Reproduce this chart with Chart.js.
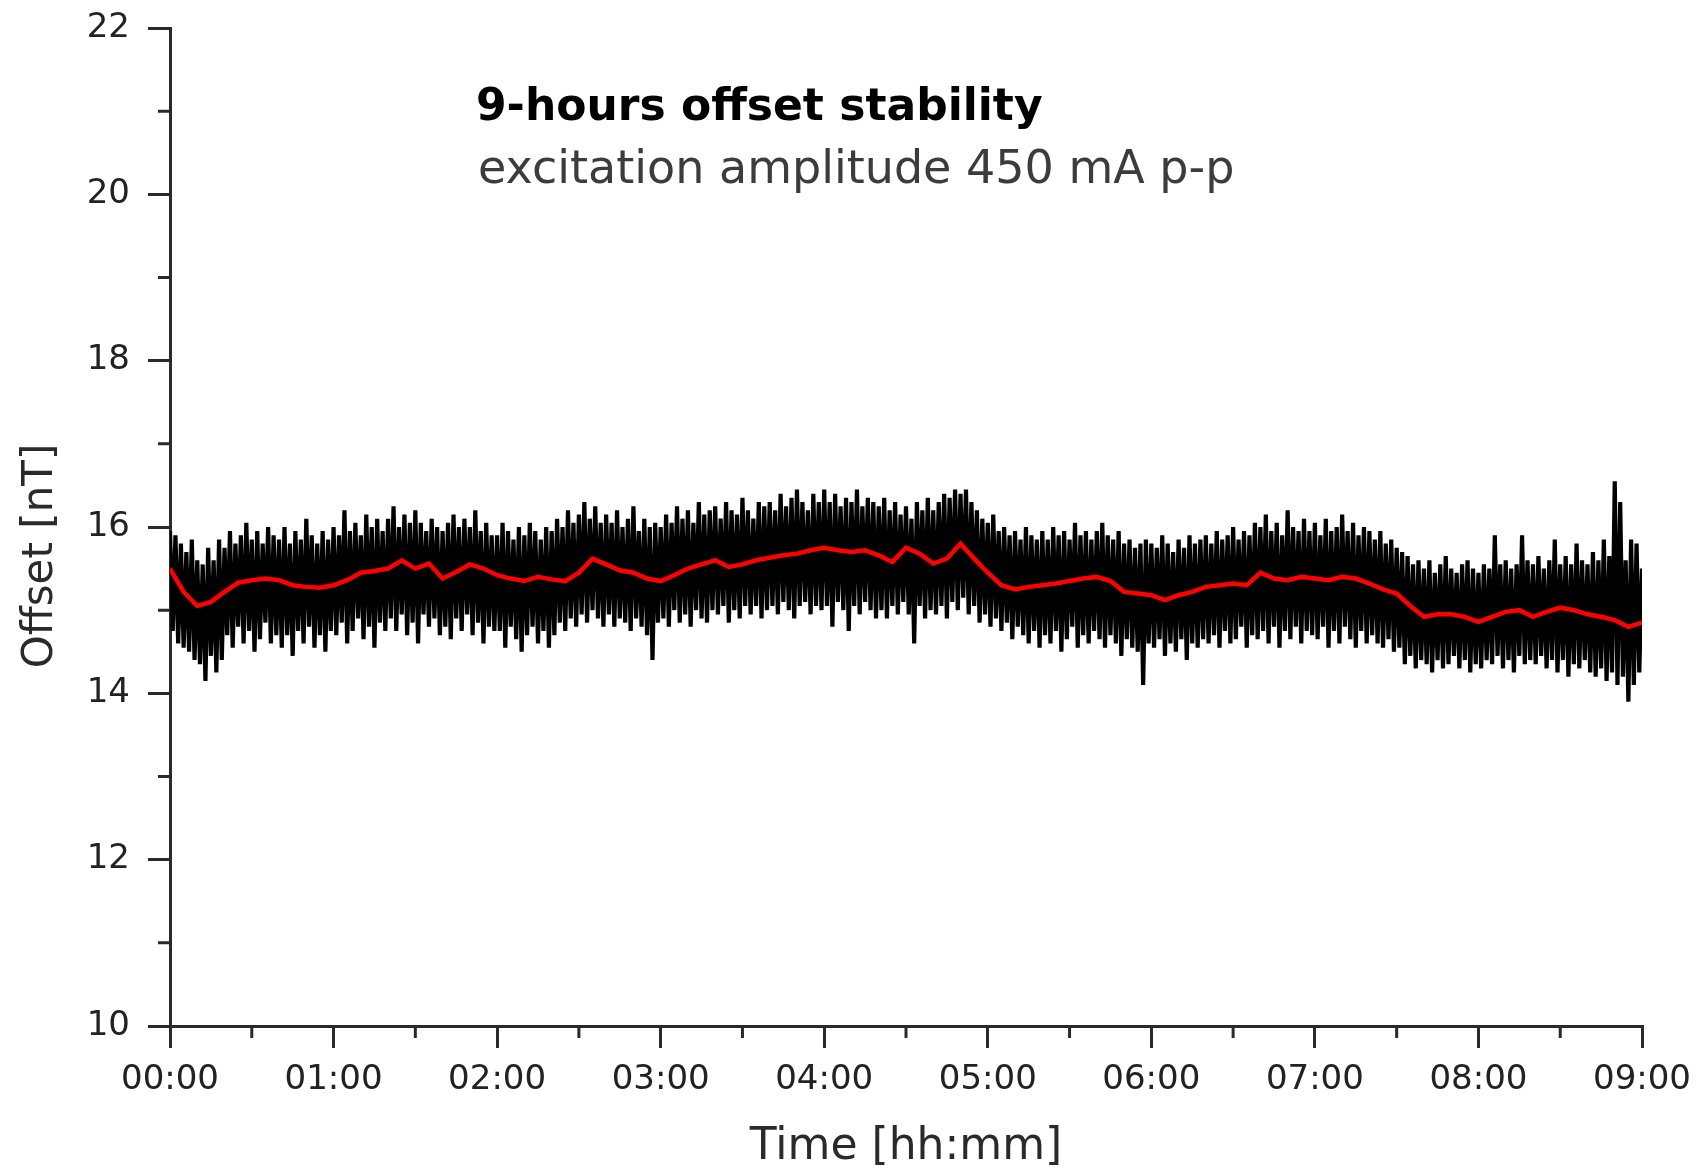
<!DOCTYPE html>
<html>
<head>
<meta charset="utf-8">
<script src="https://cdn.jsdelivr.net/npm/chart.js@4.4.1/dist/chart.umd.min.js"></script>
<style>
  html, body { margin: 0; padding: 0; background: #fff; }
  #wrap { width: 1703px; height: 1172px; }
</style>
</head>
<body>
<div id="wrap"><canvas id="offset-chart"></canvas></div>
<script>
// sampling steps in minutes
var RED_STEP = 5;
var RAW_STEP = 1;

// smoothed offset (red), one value every 5 min from 00:00 to 09:00
var redValues = [
  15.50, 15.22, 15.05, 15.10, 15.22, 15.33, 15.36, 15.38, 15.36, 15.30,
  15.28, 15.27, 15.30, 15.36, 15.45, 15.47, 15.50, 15.60, 15.50, 15.56,
  15.38, 15.46, 15.55, 15.50, 15.42, 15.38, 15.35, 15.40, 15.37, 15.35,
  15.45, 15.62, 15.55, 15.48, 15.45, 15.38, 15.35, 15.42, 15.50, 15.55,
  15.60, 15.52, 15.55, 15.60, 15.63, 15.66, 15.68, 15.72, 15.75, 15.72,
  15.70, 15.72, 15.66, 15.58, 15.75, 15.68, 15.56, 15.62, 15.80, 15.62,
  15.45, 15.30, 15.25, 15.28, 15.30, 15.32, 15.35, 15.38, 15.40, 15.35,
  15.22, 15.20, 15.18, 15.12, 15.18, 15.22, 15.28, 15.30, 15.32, 15.30,
  15.45, 15.38, 15.36, 15.40, 15.38, 15.36, 15.40, 15.38, 15.32, 15.25,
  15.20, 15.05, 14.92, 14.95, 14.95, 14.92, 14.86, 14.92, 14.98, 15.00,
  14.92, 14.98, 15.03, 15.00, 14.95, 14.92, 14.88, 14.80, 14.85
];

// raw offset signal (black), one value every minute, 20 per row
var rawValues = [
  15.95, 14.75, 15.90, 14.60, 15.80, 14.55, 15.70, 14.50, 15.85, 14.40, 15.60, 14.35, 15.55, 14.15, 15.75, 14.45, 15.60, 14.25, 15.85, 14.40,
  15.75, 14.70, 15.95, 14.55, 15.80, 14.80, 15.90, 14.60, 16.05, 14.75, 15.85, 14.50, 15.95, 14.65, 15.80, 14.85, 16.00, 14.60, 15.90, 14.70,
  15.85, 14.55, 16.00, 14.70, 15.80, 14.45, 15.95, 14.75, 15.85, 14.60, 16.10, 14.80, 15.90, 14.55, 15.80, 14.70, 15.95, 14.50, 15.85, 14.75,
  16.00, 14.70, 15.90, 14.85, 16.20, 14.60, 15.95, 14.75, 16.05, 14.90, 15.90, 14.65, 16.15, 14.80, 16.00, 14.55, 16.10, 14.85, 15.95, 14.75,
  16.10, 14.90, 16.25, 14.75, 16.00, 14.95, 16.15, 14.70, 16.05, 14.85, 16.20, 14.60, 16.05, 14.95, 15.95, 14.80, 16.10, 14.90, 16.00, 14.70,
  15.95, 14.80, 16.05, 14.65, 16.15, 14.90, 16.00, 14.75, 16.10, 14.95, 16.00, 14.70, 16.20, 14.85, 15.95, 14.60, 16.05, 14.80, 15.90, 14.75,
  15.90, 14.75, 16.05, 14.55, 15.95, 14.80, 15.85, 14.65, 16.00, 14.50, 15.90, 14.70, 16.05, 14.80, 15.95, 14.60, 15.85, 14.75, 16.00, 14.55,
  15.95, 14.70, 16.10, 14.85, 16.00, 14.75, 16.20, 14.90, 16.05, 14.80, 16.15, 14.95, 16.30, 14.85, 16.10, 15.00, 16.25, 14.90, 16.05, 14.80,
  16.15, 14.95, 16.05, 14.80, 16.20, 14.90, 16.00, 14.85, 16.10, 14.75, 16.25, 14.90, 15.95, 14.80, 16.10, 14.70, 16.00, 14.40, 16.05, 14.85,
  16.00, 14.90, 16.15, 14.80, 16.05, 15.00, 16.25, 14.85, 16.10, 14.95, 16.20, 14.80, 16.05, 15.00, 16.30, 14.90, 16.15, 14.85, 16.20, 15.00,
  16.25, 14.95, 16.10, 15.05, 16.30, 14.85, 16.20, 15.00, 16.15, 14.90, 16.35, 15.05, 16.20, 14.95, 16.10, 15.05, 16.30, 14.90, 16.25, 15.00,
  16.30, 15.05, 16.20, 14.95, 16.40, 15.10, 16.25, 15.00, 16.35, 14.90, 16.45, 15.05, 16.30, 15.10, 16.20, 14.95, 16.40, 15.05, 16.30, 15.00,
  16.45, 15.05, 16.30, 14.80, 16.40, 15.10, 16.25, 15.00, 16.35, 14.75, 16.30, 15.05, 16.45, 14.95, 16.25, 15.10, 16.35, 15.00, 16.30, 14.90,
  16.25, 15.00, 16.35, 14.90, 16.20, 15.05, 16.30, 14.95, 16.15, 15.10, 16.25, 14.95, 16.10, 14.60, 16.30, 15.05, 16.20, 14.90, 16.35, 15.00,
  16.20, 14.95, 16.30, 15.05, 16.40, 14.90, 16.35, 15.10, 16.45, 15.00, 16.40, 15.15, 16.45, 14.95, 16.30, 15.05, 16.20, 14.85, 16.10, 14.95,
  16.05, 14.80, 16.15, 14.90, 15.95, 14.75, 16.00, 14.85, 15.90, 14.65, 15.95, 14.80, 15.85, 14.70, 16.00, 14.60, 15.90, 14.75, 15.85, 14.55,
  15.95, 14.70, 15.85, 14.60, 16.00, 14.75, 15.90, 14.50, 15.95, 14.65, 15.85, 14.80, 16.05, 14.55, 15.90, 14.70, 15.95, 14.60, 15.85, 14.75,
  15.95, 14.65, 16.05, 14.55, 15.90, 14.70, 15.85, 14.60, 15.95, 14.45, 15.80, 14.65, 15.85, 14.55, 15.75, 14.50, 15.80, 14.10, 15.85, 14.60,
  15.80, 14.55, 15.75, 14.65, 15.90, 14.45, 15.80, 14.60, 15.70, 14.50, 15.85, 14.65, 15.75, 14.40, 15.90, 14.60, 15.80, 14.55, 15.85, 14.65,
  15.90, 14.60, 15.80, 14.70, 15.95, 14.55, 15.85, 14.75, 15.90, 14.60, 16.00, 14.65, 15.85, 14.80, 15.95, 14.55, 15.90, 14.70, 16.05, 14.65,
  16.00, 14.75, 16.15, 14.60, 15.95, 14.80, 16.05, 14.55, 15.90, 14.75, 16.20, 14.65, 16.00, 14.80, 15.95, 14.60, 16.10, 14.75, 15.95, 14.70,
  16.05, 14.65, 15.90, 14.80, 16.10, 14.55, 15.95, 14.75, 16.00, 14.60, 16.15, 14.80, 15.95, 14.65, 16.05, 14.55, 15.90, 14.75, 16.00, 14.60,
  15.95, 14.70, 15.85, 14.60, 15.95, 14.55, 15.80, 14.65, 15.85, 14.50, 15.75, 14.55, 15.70, 14.35, 15.65, 14.45, 15.55, 14.30, 15.60, 14.40,
  15.50, 14.35, 15.60, 14.25, 15.45, 14.40, 15.55, 14.30, 15.65, 14.35, 15.50, 14.45, 15.45, 14.30, 15.55, 14.40, 15.60, 14.25, 15.50, 14.35,
  15.45, 14.30, 15.55, 14.40, 15.50, 14.35, 15.90, 14.45, 15.55, 14.30, 15.60, 14.40, 15.50, 14.25, 15.55, 14.45, 15.90, 14.35, 15.60, 14.40,
  15.55, 14.35, 15.65, 14.45, 15.50, 14.30, 15.60, 14.40, 15.85, 14.25, 15.55, 14.40, 15.65, 14.20, 15.55, 14.35, 15.80, 14.30, 15.60, 14.40,
  15.55, 14.25, 15.70, 14.20, 15.60, 14.30, 15.85, 14.15, 15.65, 14.25, 16.55, 14.10, 16.30, 14.20, 15.60, 13.90, 15.85, 14.10, 15.80, 14.25,
  15.50
];

// axis ranges / ticks
var xMin = 0, xMax = 540, xMajorStep = 60, xMinorStep = 30;
var yMin = 10, yMax = 22, yMajorStep = 2, yMinorStep = 1;

var titleText = "9-hours offset stability";
var subtitleText = "excitation amplitude 450 mA p-p";
var xTitle = "Time [hh:mm]";
var yTitle = "Offset [nT]";

function toPoints(values, step) {
  return values.map(function (v, i) { return { x: i * step, y: v }; });
}

function hhmm(minutes) {
  var h = Math.floor(minutes / 60), m = Math.round(minutes % 60);
  return (h < 10 ? "0" : "") + h + ":" + (m < 10 ? "0" : "") + m;
}

var axisColor = "#2a2a2a";
var FONT = '"DejaVu Sans", "Liberation Sans", sans-serif';

// minor ticks + text inside the plot
var decorPlugin = {
  id: "decor",
  afterDraw: function (chart) {
    var ctx = chart.ctx;
    var xs = chart.scales.x, ys = chart.scales.y;
    var area = chart.chartArea;
    ctx.save();
    ctx.strokeStyle = axisColor;
    ctx.lineWidth = 3;
    ctx.beginPath();
    for (var v = yMin + yMinorStep; v < yMax; v += yMajorStep) {
      var py = ys.getPixelForValue(v);
      ctx.moveTo(area.left - 12, py);
      ctx.lineTo(area.left, py);
    }
    for (var t = xMin + xMinorStep; t < xMax; t += xMajorStep) {
      var px = xs.getPixelForValue(t);
      ctx.moveTo(px, area.bottom);
      ctx.lineTo(px, area.bottom + 12);
    }
    ctx.stroke();

    ctx.textBaseline = "middle";
    ctx.textAlign = "left";
    ctx.fillStyle = "#000";
    ctx.font = "bold 44px " + FONT;
    ctx.fillText(titleText, 476, 109);
    ctx.fillStyle = "#3c3c3c";
    ctx.font = "46px " + FONT;
    ctx.fillText(subtitleText, 478, 171);

    ctx.translate(41, 556);
    ctx.rotate(-Math.PI / 2);
    ctx.textAlign = "center";
    ctx.fillStyle = axisColor;
    ctx.font = "42px " + FONT;
    ctx.fillText(yTitle, 0, 0);
    ctx.restore();
  }
};

var ctx = document.getElementById("offset-chart");

var chart = new Chart(ctx, {
  type: "line",
  data: {
    datasets: [
      {
        label: "smoothed",
        data: toPoints(redValues, RED_STEP),
        borderColor: "#ff0000",
        borderWidth: 4.5,
        pointRadius: 0,
        fill: false,
        order: 0
      },
      {
        label: "raw",
        data: toPoints(rawValues, RAW_STEP),
        borderColor: "#000",
        backgroundColor: "#000",
        borderWidth: 4.2,
        pointRadius: 0,
        fill: 0,
        order: 1
      }
    ]
  },
  options: {
    responsive: true,
    maintainAspectRatio: false,
    animation: false,
    layout: { padding: { top: 28, right: 60, bottom: 0, left: 0 } },
    plugins: {
      legend: { display: false },
      tooltip: { enabled: false }
    },
    scales: {
      x: {
        type: "linear",
        min: xMin,
        max: xMax,
        afterFit: function (scale) { scale.height = 146; },
        border: { color: axisColor, width: 3 },
        grid: { drawOnChartArea: false, color: axisColor, lineWidth: 3, tickLength: 22 },
        ticks: {
          stepSize: xMajorStep,
          padding: 12,
          color: "#222",
          font: { family: FONT, size: 34 },
          maxRotation: 0,
          callback: function (value) { return hhmm(value); }
        },
        title: {
          display: true,
          text: xTitle,
          color: axisColor,
          font: { family: FONT, size: 44, lineHeight: 1.2 },
          padding: { top: 0, bottom: -2 }
        }
      },
      y: {
        min: yMin,
        max: yMax,
        afterFit: function (scale) {
          scale.width = 170;
          scale.paddingTop = 0;
          scale.paddingBottom = 0;
        },
        border: { color: axisColor, width: 3 },
        grid: { drawOnChartArea: false, color: axisColor, lineWidth: 3, tickLength: 22 },
        ticks: {
          stepSize: yMajorStep,
          padding: 18,
          color: "#222",
          font: { family: FONT, size: 34 }
        }
      }
    }
  },
  plugins: [decorPlugin]
});
</script>
</body>
</html>
